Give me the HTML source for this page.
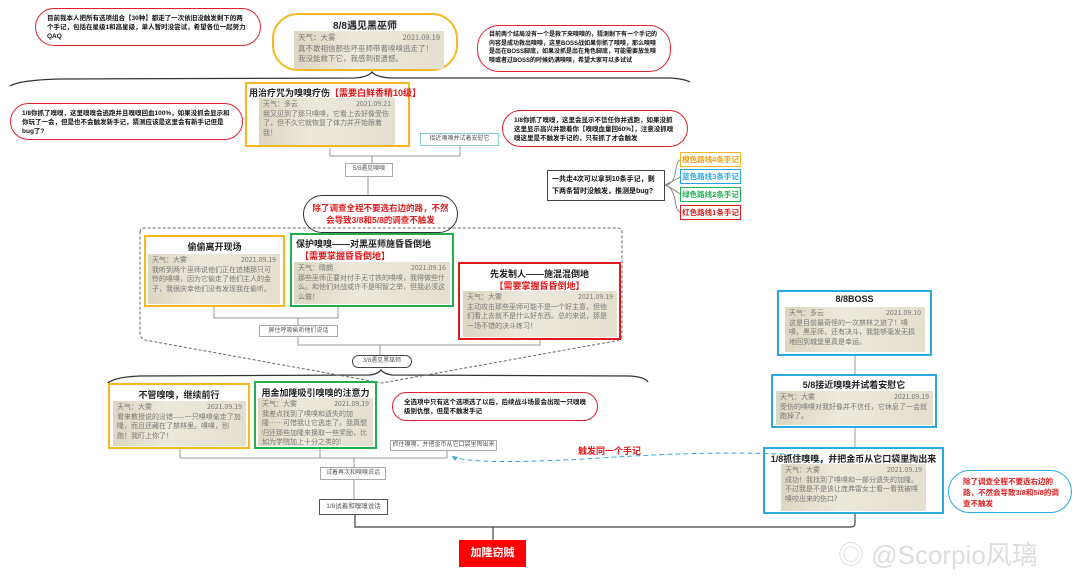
<!DOCTYPE html>
<html><head><meta charset="utf-8"><style>
body{margin:0;width:1080px;height:577px;background:#fff;position:relative;overflow:hidden;font-family:"Liberation Sans","Noto Sans CJK SC",sans-serif;}
.a{position:absolute;box-sizing:border-box;}
.t{font-weight:bold;font-size:9px;text-align:center;color:#222;white-space:nowrap}
.img{position:absolute;background:linear-gradient(90deg,#ddd6c2,#ece8dc 40%,#e4dfcf);color:#777;font-size:7px;line-height:9.5px;padding:2px 4px;box-sizing:border-box;font-family:"Noto Sans CJK SC",sans-serif;overflow:hidden}
.img .d{float:right}
.bub{position:absolute;border:1px solid #e02030;border-radius:22px;background:#fff;font-size:6.5px;line-height:9px;font-weight:bold;color:#111;padding:4px 11px;box-sizing:border-box;overflow:hidden}
.lbl{position:absolute;border:1px solid #aaa;background:#fff;font-size:6px;color:#555;text-align:center;line-height:11px;box-sizing:border-box;white-space:nowrap;overflow:hidden}
.red{color:#e01a1a}
.cl{position:absolute;width:61px;height:15px;font-size:7.5px;font-weight:bold;text-align:center;line-height:13px;white-space:nowrap;box-sizing:border-box}
</style></head><body>
<svg class="a" style="left:0;top:0" width="1080" height="577">
<g fill="none" stroke="#333" stroke-width="1.3">
<path d="M10 86 Q20 80 60 79 L355 78 Q368 77 372 72 Q376 77 390 78 L670 78 Q685 79 690 82"/>
<path d="M108 383 Q115 377 140 376 L370 375 Q378 374 381 370 Q384 374 392 375 L630 376 Q645 377 648 382"/>
</g>
<g fill="none" stroke="#999" stroke-width="1">
<path d="M330 148 V156 H460 V146"/><path d="M372 156 V163"/><path d="M368 177 V195"/>
<path d="M214 307 V318 H338 V307"/><path d="M298 318 V325"/><path d="M298 337 V345 H540 V340"/><path d="M380 345 V355"/>
<path d="M180 449 V458 H447 V450"/><path d="M320 449 V458"/><path d="M354 458 V467"/><path d="M354 480 V499"/>
<path d="M855 356 V374"/><path d="M855 428 V447"/>
</g>
<path d="M355 515 V527 H851 Q855 527 855 523 V514" fill="none" stroke="#444" stroke-width="1.2"/>
<path d="M493 527 V540" stroke="#444" stroke-width="1.2"/>
<path d="M140 232 Q140 228 144 228 L618 228 Q622 228 622 232 L622 335 Q622 340 615 341 L382 383 L145 340 Q140 338 140 333 Z" fill="none" stroke="#666" stroke-dasharray="3,2"/>
<path d="M452 456 Q470 466 600 458 Q720 450 800 455 Q818 458 826 466" fill="none" stroke="#3aa9d6" stroke-dasharray="5,3"/>
<path d="M452 456 l6 1 l-3 4 z" fill="#3aa9d6"/>
<path d="M665 185 Q672 185 675 175 Q677 160 680 160 M665 185 Q675 180 680 177 M665 185 Q675 190 680 194 M665 185 Q672 186 675 200 Q677 212 680 212" fill="none" stroke="#888"/>
</svg>

<div class="bub" style="left:35px;top:8px;width:226px;height:38px;padding-top:5px">目前我本人把所有选项组合【30种】都走了一次依旧没触发剩下的两个手记，包括在星级1和高星级，单人暂时没尝试，希望各位一起努力QAQ</div>
<div class="bub" style="left:477px;top:25px;width:194px;height:47px;padding-top:5px;font-size:6px;line-height:8.5px">目前两个结局没有一个是救下来嗅嗅的，猜测剩下有一个手记的内容是成功救出嗅嗅，这里BOSS战如果你抓了嗅嗅，那么嗅嗅是出在BOSS脚底，如果没抓是出在角色脚底，可能需要放生嗅嗅或者过BOSS的时候奶满嗅嗅，希望大家可以多试试</div>

<div class="a" style="left:272px;top:13px;width:186px;height:58px;border:2px solid #f5b820;border-radius:26px"></div>
<div class="a t" style="left:272px;top:17px;width:186px;font-size:10px">8/8遇见黑巫师</div>
<div class="img" style="left:294px;top:31px;width:150px;height:38px;font-size:7.5px;line-height:10.5px">天气：大雾<span class="d">2021.09.19</span><br>真不敢相信那些坏巫师带着嗅嗅逃走了！我没能救下它，我感到很遗憾。</div>

<div class="a" style="left:245px;top:82px;width:165px;height:65px;border:2px solid #f5b820"></div>
<div class="a t" style="left:249px;top:86px;font-size:9px;text-align:left">用治疗咒为嗅嗅疗伤<span class="red">【需要白鲜香精10级】</span></div>
<div class="img" style="left:259px;top:98px;width:136px;height:47px">天气：多云<span class="d">2021.09.21</span><br>我又见到了那只嗅嗅，它看上去好像受伤了，但不久它就恢复了体力并开始跟着我！</div>
<div class="bub" style="left:10px;top:103px;width:233px;height:37px;padding-top:5px">1/8你抓了嗅嗅，这里嗅嗅会逃跑并且嗅嗅回血100%，如果没抓会显示和你玩了一会，但是也不会触发新手记，猜测应该是这里会有新手记但是bug了?</div>
<div class="lbl" style="left:420px;top:133px;width:79px;height:13px;border-color:#8cc">接近嗅嗅并试着安慰它</div>
<div class="bub" style="left:502px;top:110px;width:186px;height:37px;padding-top:5px">1/8你抓了嗅嗅，这里会显示不信任你并逃跑，如果没抓这里显示高兴并跟着你【嗅嗅血量回60%】，注意没抓嗅嗅这里是不触发手记的，只有抓了才会触发</div>
<div class="lbl" style="left:345px;top:163px;width:48px;height:14px">5/8遇见嗅嗅</div>

<div class="a" style="left:303px;top:195px;width:155px;height:38px;border:1.5px solid #333;border-radius:19px;font-size:8.5px;font-weight:bold;color:#e01a1a;text-align:center;line-height:12px;padding:6px 8px 0">除了调查全程不要选右边的路，不然会导致3/8和5/8的调查不触发</div>

<div class="a" style="left:547px;top:170px;width:118px;height:31px;border:1.5px solid #444;font-size:7px;font-weight:bold;line-height:12px;padding:3px 4px;color:#111">一共走4次可以拿到10条手记，剩下两条暂时没触发，推测是bug?</div>
<div class="cl" style="left:680px;top:152px;border:1.5px solid #f5b820;color:#f5a000">橙色路线4条手记</div>
<div class="cl" style="left:680px;top:169px;border:1.5px solid #2aa8e0;color:#2aa8e0">蓝色路线3条手记</div>
<div class="cl" style="left:680px;top:187px;border:1.5px solid #20b050;color:#20b050">绿色路线2条手记</div>
<div class="cl" style="left:680px;top:205px;border:1.5px solid #e01a1a;color:#e01a1a">红色路线1条手记</div>

<div class="a" style="left:144px;top:235px;width:141px;height:72px;border:2px solid #f5b820"></div>
<div class="a t" style="left:144px;top:240px;width:141px">偷偷离开现场</div>
<div class="img" style="left:148px;top:254px;width:132px;height:50px">天气：大雾<span class="d">2021.09.19</span><br>我听到两个巫师说他们正在追捕那只可怜的嗅嗅，因为它偷走了他们主人的金子，我很庆幸他们没有发现我在偷听。</div>
<div class="a" style="left:290px;top:233px;width:164px;height:74px;border:2px solid #20b050"></div>
<div class="a t" style="left:296px;top:237px;text-align:left">保护嗅嗅——对黑巫师施昏昏倒地</div>
<div class="a t red" style="left:300px;top:249px;text-align:left">【需要掌握昏昏倒地】</div>
<div class="img" style="left:294px;top:262px;width:156px;height:42px">天气：晴朗<span class="d">2021.09.16</span><br>那些巫师正要对付手无寸铁的嗅嗅，我得做些什么。和他们对战或许不是明智之举，但我必须这么做！</div>
<div class="a" style="left:458px;top:262px;width:163px;height:78px;border:2px solid #e01a1a"></div>
<div class="a t" style="left:458px;top:267px;width:163px">先发制人——施混混倒地</div>
<div class="a t red" style="left:458px;top:279px;width:163px">【需要掌握昏昏倒地】</div>
<div class="img" style="left:463px;top:291px;width:154px;height:46px">天气：大雾<span class="d">2021.09.19</span><br>主动攻击那些巫师可能不是一个好主意，但他们看上去就不是什么好东西。总的来说，那是一场不错的决斗练习！</div>
<div class="lbl" style="left:259px;top:325px;width:79px;height:12px">屏住呼吸偷听他们说话</div>
<div class="lbl" style="left:352px;top:355px;width:60px;height:13px;border-radius:7px;border-color:#444">3/8遇见黑巫师</div>

<div class="a" style="left:108px;top:383px;width:142px;height:66px;border:2px solid #f5b820"></div>
<div class="a t" style="left:108px;top:388px;width:142px">不管嗅嗅，继续前行</div>
<div class="img" style="left:113px;top:401px;width:133px;height:45px">天气：大雾<span class="d">2021.09.19</span><br>看来教授说的没错——一只嗅嗅偷走了加隆，而且还藏在了禁林里。嗅嗅，别跑！我盯上你了！</div>
<div class="a" style="left:254px;top:381px;width:123px;height:68px;border:2px solid #20b050"></div>
<div class="a t" style="left:254px;top:386px;width:123px">用金加隆吸引嗅嗅的注意力</div>
<div class="img" style="left:258px;top:398px;width:115px;height:48px">天气：大雾<span class="d">2021.09.19</span><br>我差点找到了嗅嗅和遗失的加隆……可惜我让它逃走了。我真想归还那些加隆来换取一些奖励，比如为学院加上十分之类的!</div>
<div class="bub" style="left:392px;top:392px;width:206px;height:29px;padding-top:5px">全选项中只有这个选项选了以后，后续战斗场景会出现一只嗅嗅级别仇恨，但是不触发手记</div>
<div class="lbl" style="left:390px;top:440px;width:107px;height:11px;line-height:9px">抓住嗅嗅，并把金币从它口袋里掏出来</div>
<div class="a red" style="left:578px;top:444px;font-size:9px;font-weight:bold">触发同一个手记</div>
<div class="lbl" style="left:320px;top:467px;width:66px;height:13px">试着再次和嗅嗅说话</div>
<div class="lbl" style="left:319px;top:499px;width:69px;height:16px;line-height:14px;border-color:#555;font-size:6.5px">1/8试着和嗅嗅说话</div>
<div class="a" style="left:459px;top:540px;width:67px;height:27px;background:#f00;color:#fff;font-weight:bold;font-size:11px;text-align:center;line-height:27px">加隆窃贼</div>

<div class="a" style="left:777px;top:290px;width:155px;height:66px;border:2px solid #2aa8e0"></div>
<div class="a t" style="left:777px;top:294px;width:155px">8/8BOSS</div>
<div class="img" style="left:785px;top:307px;width:140px;height:45px">天气：多云<span class="d">2021.09.10</span><br>这是目前最奇怪的一次禁林之旅了！嗅嗅，黑巫师，还有决斗，我能够毫发无损地回到城堡里真是幸运。</div>
<div class="a" style="left:771px;top:374px;width:166px;height:54px;border:2px solid #2aa8e0"></div>
<div class="a t" style="left:771px;top:378px;width:166px">5/8接近嗅嗅并试着安慰它</div>
<div class="img" style="left:776px;top:391px;width:157px;height:34px">天气：大雾<span class="d">2021.09.19</span><br>受伤的嗅嗅对我好像并不信任，它休息了一会就跑掉了。</div>
<div class="a" style="left:763px;top:447px;width:181px;height:67px;border:2px solid #2aa8e0"></div>
<div class="a t" style="left:763px;top:452px;width:181px">1/8抓住嗅嗅，并把金币从它口袋里掏出来</div>
<div class="img" style="left:781px;top:464px;width:145px;height:47px">天气：大雾<span class="d">2021.09.19</span><br>成功！我找到了嗅嗅和一部分遗失的加隆。不过我是不是该让庞弗雷女士看一看我被嗅嗅咬出来的伤口?</div>
<div class="a" style="left:948px;top:470px;width:124px;height:43px;border:1px solid #2aa8e0;border-radius:22px;color:#e01a1a;font-size:7.5px;font-weight:bold;line-height:11px;padding:5px 8px 0 14px">除了调查全程不要选右边的路，不然会导致3/8和5/8的调查不触发</div>

<div class="a" style="left:838px;top:535px;font-size:26px;color:#ddd;white-space:nowrap">◎ @Scorpio风璃</div>
</body></html>
